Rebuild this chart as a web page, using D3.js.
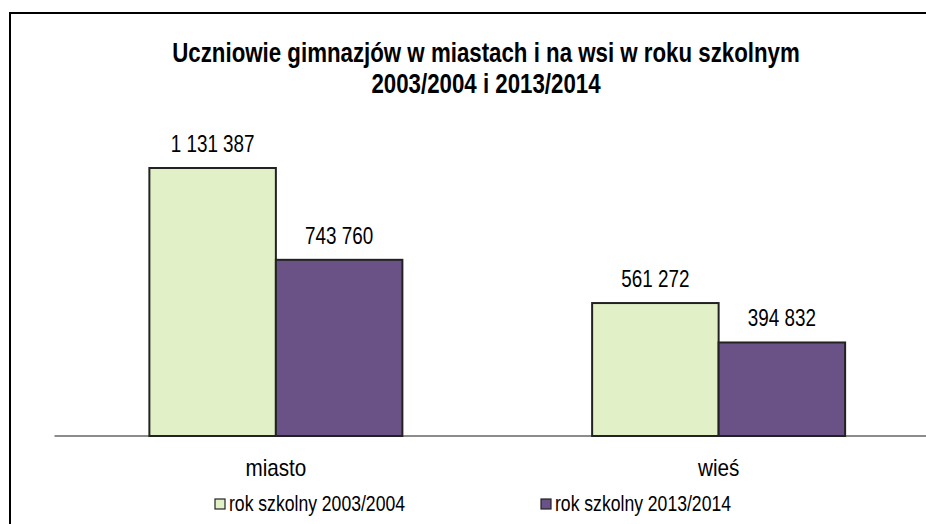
<!DOCTYPE html>
<html>
<head>
<meta charset="utf-8">
<script src="https://cdn.jsdelivr.net/npm/d3@7"></script>
<style>
  body { margin: 0; background: #fff; }
  svg text { font-family: "Liberation Sans", Arial, sans-serif; fill: #000; }
</style>
</head>
<body>
<div id="wrapper"></div>
<script>
// dane
const categories = ['miasto', 'wieś'];
const seriesNames = ['rok szkolny 2003/2004', 'rok szkolny 2013/2014'];
const values2003 = [1131387, 561272];
const values2013 = [743760, 394832];
const titleLines = ['Uczniowie gimnazjów w miastach i na wsi w roku szkolnym', '2003/2004 i 2013/2014'];

const colors = ['#e2f0c8', '#6a5286'];
const fmt = v => d3.format(',')(v).replace(/,/g, ' ');

// waska czcionka (jak Arial Narrow) - skalowanie w poziomie
function narrow(sel, x, y, sx) {
    sel.attr('transform', (d, i) => `translate(${typeof x === 'function' ? x(d, i) : x},${typeof y === 'function' ? y(d, i) : y}) scale(${sx},1)`);
    return sel;
}

let dimensions = {
    width: 926,
    height: 524,
    margin: { top: 168, left: 54.5, right: -14, bottom: 88 }
};
dimensions.boundW = dimensions.width - dimensions.margin.left - dimensions.margin.right;
dimensions.boundH = dimensions.height - dimensions.margin.top - dimensions.margin.bottom;

const svg = d3.select('#wrapper').append('svg')
    .attr('width', dimensions.width)
    .attr('height', dimensions.height);

// ramka
svg.append('rect')
    .attr('x', 10).attr('y', 13)
    .attr('width', 940).attr('height', 540)
    .attr('fill', 'none').attr('stroke', '#000').attr('stroke-width', 2);

// tytul
svg.selectAll('.title').data(titleLines).join('text')
    .attr('class', 'title')
    .attr('text-anchor', 'middle')
    .style('font-size', '27px').style('font-weight', 'bold')
    .call(narrow, 486, (d, i) => 62 + i * 31, 0.825)
    .text(d => d);

const bounds = svg.append('g')
    .attr('transform', `translate(${dimensions.margin.left},${dimensions.margin.top})`);

// scales
const xScale = d3.scaleBand()
    .domain(categories)
    .range([0, dimensions.boundW]);

const xSub = d3.scaleBand()
    .domain([0, 1])
    .range([0, xScale.bandwidth()])
    .paddingOuter(0.75)
    .paddingInner(0);

const yScale = d3.scaleLinear()
    .domain([0, d3.max(values2003)])
    .range([dimensions.boundH, 0]);

const rows = categories.map((c, i) => ({ cat: c, vals: [values2003[i], values2013[i]] }));

// os x
bounds.append('line')
    .attr('x1', 0).attr('x2', dimensions.boundW)
    .attr('y1', dimensions.boundH).attr('y2', dimensions.boundH)
    .attr('stroke', '#8c8c8c').attr('stroke-width', 2);

const groups = bounds.selectAll('.grp').data(rows).join('g')
    .attr('class', 'grp')
    .attr('transform', d => `translate(${xScale(d.cat)},0)`);

groups.selectAll('rect').data(d => d.vals.map((v, j) => ({ v, j }))).join('rect')
    .attr('x', d => xSub(d.j))
    .attr('y', d => yScale(d.v))
    .attr('width', xSub.bandwidth())
    .attr('height', d => dimensions.boundH - yScale(d.v))
    .attr('fill', d => colors[d.j])
    .attr('stroke', '#222')
    .attr('stroke-width', 2);

groups.selectAll('.lbl').data(d => d.vals.map((v, j) => ({ v, j }))).join('text')
    .attr('class', 'lbl')
    .attr('text-anchor', 'middle')
    .style('font-size', '23px')
    .call(narrow, d => xSub(d.j) + xSub.bandwidth() / 2, d => yScale(d.v) - 16, 0.82)
    .text(d => fmt(d.v));

// kategorie
groups.append('text')
    .attr('text-anchor', 'middle')
    .style('font-size', '23px')
    .call(narrow, xScale.bandwidth() / 2, dimensions.boundH + 40, 0.9)
    .text(d => d.cat);

// legenda
const legendX = [215, 541];
const legend = svg.selectAll('.leg').data(seriesNames).join('g')
    .attr('class', 'leg')
    .attr('transform', (d, i) => `translate(${legendX[i]},499)`);

legend.append('rect')
    .attr('width', 10).attr('height', 10)
    .attr('fill', (d, i) => colors[i])
    .attr('stroke', '#222').attr('stroke-width', 1.2);

legend.append('text')
    .style('font-size', '22px')
    .call(narrow, 14, 12, 0.8)
    .text(d => d);
</script>
</body>
</html>
